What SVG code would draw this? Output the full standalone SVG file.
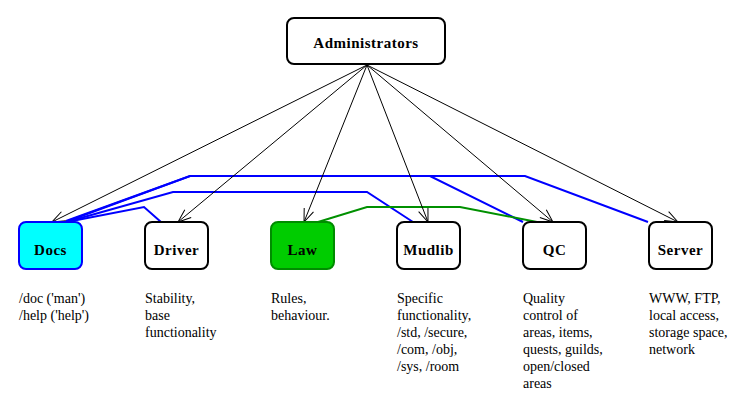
<svg xmlns="http://www.w3.org/2000/svg" width="753" height="407" viewBox="0 0 753 407">
<style>
.box{fill:#fff;stroke:#000;stroke-width:2}
.lbl{font-family:"Liberation Serif",serif;font-weight:bold;font-size:15px;letter-spacing:0.5px;text-anchor:middle;fill:#000}
.desc{font-family:"Liberation Serif",serif;font-size:14px;fill:#000}
.arr{fill:none;stroke:#000;stroke-width:1;marker-end:url(#ah)}
.blue{fill:none;stroke:#0000ff;stroke-width:2;stroke-linejoin:miter}
.green{fill:none;stroke:#009000;stroke-width:2}
</style>
<defs>
<marker id="ah" markerUnits="userSpaceOnUse" markerWidth="16" markerHeight="12" refX="13" refY="5" orient="auto" overflow="visible">
<path d="M0,0 L13,5 L0,10" fill="none" stroke="#000" stroke-width="1"/>
</marker>
</defs>
<rect width="753" height="407" fill="#fff"/>
<g id="connectors">
<polyline class="blue" points="66,221 190,176 525,176 648,222"/>
<polyline class="blue" points="68,221 190,176 430,176 523,222"/>
<polyline class="blue" points="70,221 173,192 367,192 413,222"/>
<polyline class="blue" points="72,221 144,207 161,222"/>
<polyline class="green" points="318,222 367,207 460,207 537,222"/>
<line class="arr" x1="367" y1="65" x2="52" y2="222"/>
<line class="arr" x1="367" y1="65" x2="178" y2="222"/>
<line class="arr" x1="367" y1="65" x2="304" y2="222"/>
<line class="arr" x1="367" y1="65" x2="428" y2="222"/>
<line class="arr" x1="367" y1="65" x2="553" y2="222"/>
<line class="arr" x1="367" y1="65" x2="678" y2="222"/>
</g>
<g id="administrators">
<rect class="box" x="287" y="18" width="158" height="46" rx="7"/>
<text class="lbl" x="366" y="48">Administrators</text>
</g>
<g id="docs">
<rect x="19" y="222" width="63" height="47" rx="7" fill="#00ffff" stroke="#0000ff" stroke-width="2"/>
<text class="lbl" x="50.5" y="255">Docs</text>
<text class="desc" x="19" y="303">/doc ('man')</text>
<text class="desc" x="19" y="320">/help ('help')</text>
</g>
<g id="driver">
<rect class="box" x="145" y="222" width="63" height="47" rx="7"/>
<text class="lbl" x="176.5" y="255">Driver</text>
<text class="desc" x="145" y="303">Stability,</text>
<text class="desc" x="145" y="320">base</text>
<text class="desc" x="145" y="337">functionality</text>
</g>
<g id="law">
<rect x="271" y="222" width="63" height="47" rx="7" fill="#00cc00" stroke="#008c00" stroke-width="2"/>
<text class="lbl" x="302.5" y="255">Law</text>
<text class="desc" x="271" y="303">Rules,</text>
<text class="desc" x="271" y="320">behaviour.</text>
</g>
<g id="mudlib">
<rect class="box" x="397" y="222" width="63" height="47" rx="7"/>
<text class="lbl" x="428.5" y="255">Mudlib</text>
<text class="desc" x="397" y="303">Specific</text>
<text class="desc" x="397" y="320">functionality,</text>
<text class="desc" x="397" y="337">/std, /secure,</text>
<text class="desc" x="397" y="354">/com, /obj,</text>
<text class="desc" x="397" y="371">/sys, /room</text>
</g>
<g id="qc">
<rect class="box" x="523" y="222" width="63" height="47" rx="7"/>
<text class="lbl" x="554.5" y="255">QC</text>
<text class="desc" x="523" y="303">Quality</text>
<text class="desc" x="523" y="320">control of</text>
<text class="desc" x="523" y="337">areas, items,</text>
<text class="desc" x="523" y="354">quests, guilds,</text>
<text class="desc" x="523" y="371">open/closed</text>
<text class="desc" x="523" y="388">areas</text>
</g>
<g id="server">
<rect class="box" x="649" y="222" width="63" height="47" rx="7"/>
<text class="lbl" x="680.5" y="255">Server</text>
<text class="desc" x="649" y="303">WWW, FTP,</text>
<text class="desc" x="649" y="320">local access,</text>
<text class="desc" x="649" y="337">storage space,</text>
<text class="desc" x="649" y="354">network</text>
</g>
</svg>
